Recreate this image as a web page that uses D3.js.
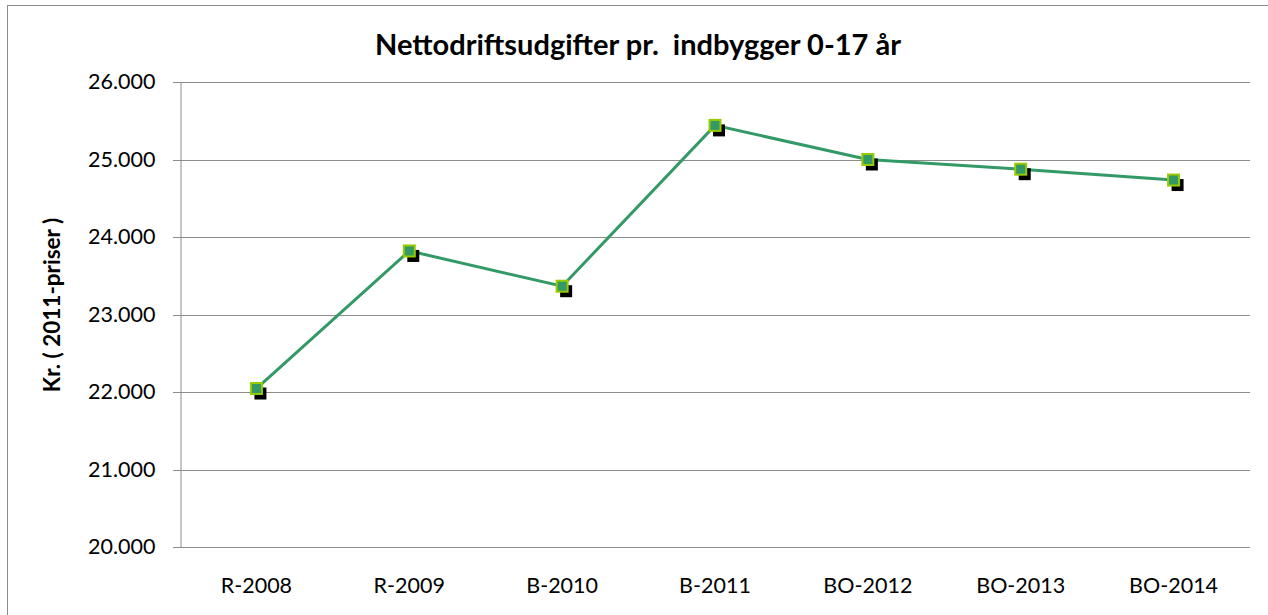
<!DOCTYPE html>
<html>
<head>
<meta charset="utf-8">
<script src="https://cdn.jsdelivr.net/npm/d3@7"></script>
<style>
  html, body { margin: 0; padding: 0; background: #fff; }
  svg { display: block; }
</style>
</head>
<body>
<svg id="chart" width="1268" height="615"></svg>
<script>
const categories = ["R-2008", "R-2009", "B-2010", "B-2011", "BO-2012", "BO-2013", "BO-2014"];
const values = [22045, 23820, 23365, 25440, 25000, 24875, 24735];
const yTicks = [20000, 21000, 22000, 23000, 24000, 25000, 26000];
const titleText = "Nettodriftsudgifter pr.  indbygger 0-17 år";
const yLabelText = "Kr. ( 2011-priser )";

const svg = d3.select("#chart");
const W = 1268, H = 615;
const m = { left: 180, right: 18, top: 82, bottom: 68 };

// outer chart border
svg.append("rect").attr("x", 7.5).attr("y", 5.5).attr("width", 1280).attr("height", 640)
  .attr("fill", "none").attr("stroke", "#8c8c8c").attr("stroke-width", 1);

const x = d3.scaleBand().domain(categories).range([m.left, W - m.right]);
const y = d3.scaleLinear().domain([20000, 26000]).range([H - m.bottom, m.top]);

const fmt = d => d3.format(",")(d).replace(/,/g, ".");
const font = "Lato, 'Open Sans', sans-serif";

// gridlines
svg.append("g").selectAll("line").data(yTicks).join("line")
  .attr("x1", m.left - 7).attr("x2", W - m.right)
  .attr("y1", d => Math.round(y(d)) + 0.5).attr("y2", d => Math.round(y(d)) + 0.5)
  .attr("stroke", "#8c8c8c").attr("stroke-width", 1);

// y axis
const yAxis = d3.axisLeft(y).tickValues(yTicks).tickFormat(fmt).tickSize(0).tickPadding(25);
const gy = svg.append("g").attr("transform", `translate(${m.left + 0.5},0)`).call(yAxis);
gy.select(".domain").attr("stroke", "#8c8c8c");
gy.selectAll("text").attr("font-family", font).attr("font-size", 21.5).attr("fill", "#000");

// x axis
const xAxis = d3.axisBottom(x).tickSize(0).tickPadding(30);
const gx = svg.append("g").attr("transform", `translate(0,${Math.round(y(20000)) + 0.5})`).call(xAxis);
gx.select(".domain").remove();
gx.selectAll("text").attr("font-family", font).attr("font-size", 21.5).attr("fill", "#000");

// title
svg.append("text").attr("x", 638).attr("y", 55).attr("text-anchor", "middle")
  .attr("font-family", font).attr("font-weight", "bold").attr("font-size", 29)
  .attr("fill", "#000").style("white-space", "pre").text(titleText);

// y label
svg.append("text").attr("transform", `translate(60,${305}) rotate(-90)`)
  .attr("text-anchor", "middle").attr("font-family", font).attr("font-weight", "bold")
  .attr("font-size", 22.5).attr("fill", "#000").style("white-space", "pre").text(yLabelText);

const data = categories.map((c, i) => ({ c, v: values[i] }));
const cx = d => x(d.c) + x.bandwidth() / 2;

// line
svg.append("path").datum(data)
  .attr("d", d3.line().x(cx).y(d => y(d.v)))
  .attr("fill", "none").attr("stroke", "#339966").attr("stroke-width", 3);

// marker shadows
svg.append("g").selectAll("rect").data(data).join("rect")
  .attr("x", d => cx(d) - 2).attr("y", d => y(d.v) - 1)
  .attr("width", 12).attr("height", 12).attr("fill", "#000");

// markers
svg.append("g").selectAll("rect").data(data).join("rect")
  .attr("x", d => cx(d) - 5.5).attr("y", d => y(d.v) - 5.5)
  .attr("width", 11).attr("height", 11)
  .attr("fill", "#339966").attr("stroke", "#99cc00").attr("stroke-width", 2);
</script>
</body>
</html>
